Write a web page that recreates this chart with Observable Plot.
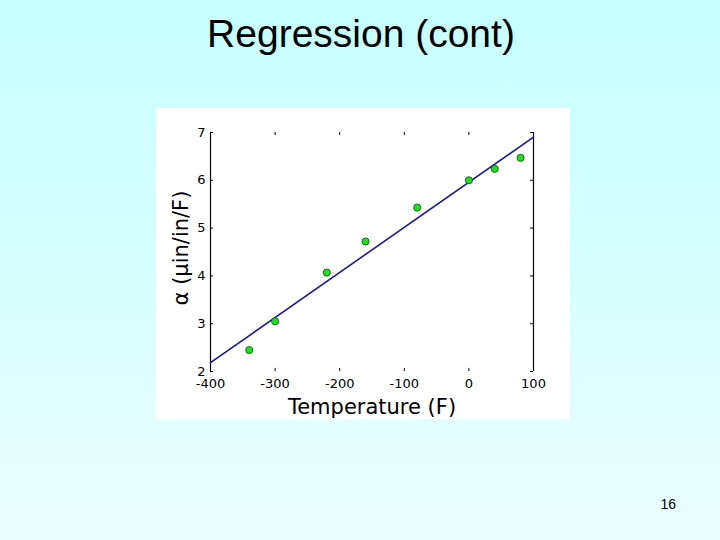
<!DOCTYPE html>
<html>
<head>
<meta charset="utf-8">
<script src="https://cdn.jsdelivr.net/npm/d3@7"></script>
<script src="https://cdn.jsdelivr.net/npm/@observablehq/plot@0.6"></script>
<style>
  html, body { margin: 0; padding: 0; }
  body {
    width: 720px; height: 540px; position: relative; overflow: hidden;
    background: linear-gradient(to bottom, #c6ffff 0%, #d8ffff 50%, #ebffff 100%);
    font-family: "Liberation Sans", Arial, sans-serif;
  }
  #title {
    position: absolute; left: 0; width: 722px; top: 12px;
    text-align: center; font-size: 39px; color: #000; line-height: 44px;
  }
  #page {
    position: absolute; right: 44px; top: 496px; font-size: 14px; color: #000;
  }
  #chart { position: absolute; left: 156px; top: 108px; background: #fff; }
  #chart svg { display: block; background: #fff; }
</style>
</head>
<body>
<div id="title">Regression (cont)</div>
<div id="chart"></div>
<div id="page">16</div>
<script>
// Data
const temperature = [-340, -300, -220, -160, -80, 0, 40, 80];
const alpha = [2.45, 3.05, 4.07, 4.72, 5.43, 6.00, 6.24, 6.47];
const xTicks = [-400, -300, -200, -100, 0, 100];
const yTicks = [2, 3, 4, 5, 6, 7];
const xDomain = [-400, 100];
const yDomain = [2, 7];

const points = temperature.map((t, i) => ({t, a: alpha[i]}));

// least-squares fit computed from the data
const mx = d3.mean(temperature), my = d3.mean(alpha);
const slope = d3.sum(temperature, (t, i) => (t - mx) * (alpha[i] - my)) / d3.sum(temperature, t => (t - mx) ** 2);
const intercept = my - slope * mx;
const fit = xDomain.map(t => ({t, a: intercept + slope * t}));

const xTickLen = 0.065 * (yDomain[1] - yDomain[0]) / 5;
const yTickLen = 4.5 * (xDomain[1] - xDomain[0]) / 500;
const fmt = d => String(d);

const chart = Plot.plot({
  width: 414,
  height: 311,
  marginLeft: 54,
  marginRight: 37,
  marginTop: 24,
  marginBottom: 48,
  style: {background: "#fff", fontFamily: "DejaVu Sans, Verdana, sans-serif"},
  x: {domain: xDomain, ticks: xTicks},
  y: {domain: yDomain, ticks: yTicks},
  marks: [
    Plot.axisX({ticks: xTicks, tickFormat: fmt, tickSize: 0, tickPadding: 7, fontSize: 13, label: null, fill: "#000"}),
    Plot.axisY({ticks: yTicks, tickFormat: fmt, tickSize: 0, tickPadding: 5, fontSize: 13, label: null, fill: "#000"}),
    // vertical frame lines
    Plot.ruleX([xDomain[0], xDomain[1]], {y1: yDomain[0], y2: yDomain[1], stroke: "#000", strokeWidth: 1.2}),
    // inward ticks
    Plot.ruleX(xTicks, {y1: yDomain[0], y2: yDomain[0] + xTickLen, stroke: "#000"}),
    Plot.ruleX(xTicks, {y1: yDomain[1] - xTickLen, y2: yDomain[1], stroke: "#000"}),
    Plot.ruleY(yTicks, {x1: xDomain[0], x2: xDomain[0] + yTickLen, stroke: "#000"}),
    Plot.ruleY(yTicks, {x1: xDomain[1] - yTickLen, x2: xDomain[1], stroke: "#000"}),
    // regression line
    Plot.line(fit, {x: "t", y: "a", stroke: "#1c1c8e", strokeWidth: 1.6}),
    // data points
    Plot.dot(points, {x: "t", y: "a", r: 3.6, fill: "#22dd22", stroke: "#0d4d0d", strokeWidth: 0.8}),
    // axis labels
    Plot.text(["Temperature (F)"], {frameAnchor: "bottom", textAnchor: "middle", lineAnchor: "bottom", dy: 42, fontSize: 21, fill: "#000"}),
    Plot.text(["α (μin/in/F)"], {frameAnchor: "left", textAnchor: "middle", lineAnchor: "bottom", rotate: -90, dx: -23, dy: -4, fontSize: 21, fill: "#000"})
  ]
});
document.getElementById("chart").appendChild(chart);
</script>
</body>
</html>
